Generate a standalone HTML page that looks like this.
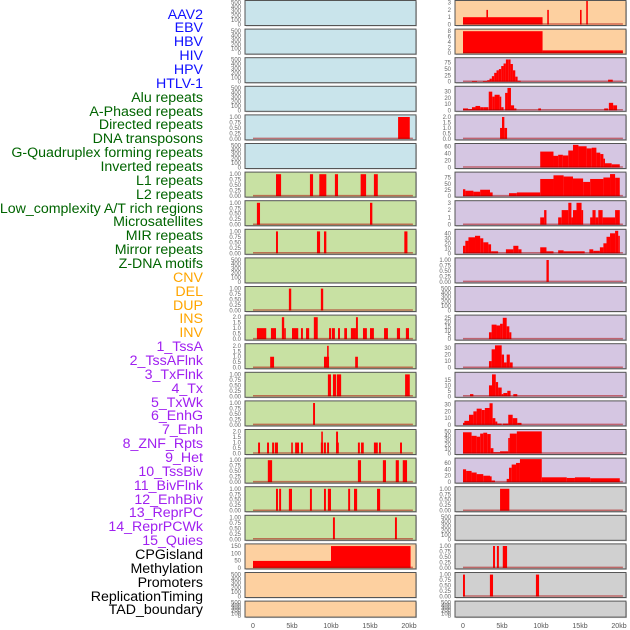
<!DOCTYPE html>
<html><head><meta charset="utf-8">
<style>
body{margin:0;background:#fff;}
#wrap{position:relative;width:630px;height:630px;overflow:hidden;font-family:"Liberation Sans",sans-serif;}
.lab{position:absolute;right:427px;font-size:14.2px;line-height:14px;white-space:nowrap;}
</style></head>
<body>
<div id="wrap">
<svg id="svg" width="630" height="630" style="position:absolute;left:0;top:0"></svg>
</div>
<script>
const labels=["AAV2","EBV","HBV","HIV","HPV","HTLV-1","Alu repeats","A-Phased repeats","Directed repeats","DNA transposons","G-Quadruplex forming repeats","Inverted repeats","L1 repeats","L2 repeats","Low_complexity A/T rich regions","Microsatellites","MIR repeats","Mirror repeats","Z-DNA motifs","CNV","DEL","DUP","INS","INV","1_TssA","2_TssAFlnk","3_TxFlnk","4_Tx","5_TxWk","6_EnhG","7_Enh","8_ZNF_Rpts","9_Het","10_TssBiv","11_BivFlnk","12_EnhBiv","13_ReprPC","14_ReprPCWk","15_Quies","CPGisland","Methylation","Promoters","ReplicationTiming","TAD_boundary"];
const labelColors=["#1010ff","#1010ff","#1010ff","#1010ff","#1010ff","#1010ff","#006400","#006400","#006400","#006400","#006400","#006400","#006400","#006400","#006400","#006400","#006400","#006400","#006400","#ffa500","#ffa500","#ffa500","#ffa500","#ffa500","#a020f0","#a020f0","#a020f0","#a020f0","#a020f0","#a020f0","#a020f0","#a020f0","#a020f0","#a020f0","#a020f0","#a020f0","#a020f0","#a020f0","#a020f0","#000","#000","#000","#000","#000"];
const xTicks=[0,5,10,15,20];
const xTickLabels=["0","5kb","10kb","15kb","20kb"];
const T500=["0","100","200","300","400","500"],T1=["0.00","0.25","0.50","0.75","1.00"],T2=["0.0","0.5","1.0","1.5","2.0"];
const leftTicks=[T500,T500,T500,T500,T1,T500,T1,T1,T1,T500,T1,T2,T2,T1,T1,T2,T1,T1,T1,["0","50","100","150"],T500,T500];
const leftMax=[520,520,520,520,1.05,520,1.05,1.05,1.05,520,1.05,2.1,2.1,1.05,1.05,2.1,1.05,1.05,1.05,158,520,520];
const leftFill=["#c9e4eb","#c9e4eb","#c9e4eb","#c9e4eb","#c9e4eb","#c9e4eb","#c8e1a3","#c8e1a3","#c8e1a3","#c8e1a3","#c8e1a3","#c8e1a3","#c8e1a3","#c8e1a3","#c8e1a3","#c8e1a3","#c8e1a3","#c8e1a3","#c8e1a3","#fdd0a0","#fdd0a0","#fdd0a0"];
const leftBars=[[],[],[],[],
[[18.6,20.1,1]],
[],
[[2.95,3.6,1],[7.3,7.7,1],[8.5,9.4,1],[10.5,10.9,1],[13.8,14.5,1],[15.5,16.0,1]],
[[0.5,0.9,1],[15.0,15.3,1]],
[[2.95,3.2,1],[8.2,8.6,1],[9.1,9.4,1],[19.4,19.8,1]],
[],
[[4.6,4.9,1],[8.7,9.0,1]],
[[0.5,1.7,1],[2.3,2.95,1],[3.7,4.0,2],[4.0,4.2,1],[5.0,5.8,1],[6.15,6.4,1],[6.8,7.2,1],[7.8,8.3,2],[9.75,10.0,1],[10.1,10.5,1],[10.9,11.15,1],[11.7,12.05,1],[12.55,13.2,1],[13.2,13.45,2],[14.1,14.6,1],[15.0,15.5,1],[16.8,17.3,1],[18.45,18.85,1],[19.6,20.0,1]],
[[2.2,2.7,1],[9.1,9.75,1],[9.5,9.6,2],[13.1,13.45,1]],
[[9.6,10.0,1],[10.25,10.65,1],[10.75,11.3,1],[19.5,20.1,1]],
[[7.7,7.95,1]],
[[0.65,0.9,1],[1.8,2.05,1],[2.45,2.7,1],[2.8,3.2,1],[4.9,5.1,1],[5.4,5.9,1],[6.15,6.4,1],[8.7,9.0,1],[8.75,8.9,2],[9.1,9.35,1],[9.5,9.75,1],[10.65,11.0,1],[10.65,10.9,2],[13.45,13.7,1],[13.85,14.2,1],[15.5,16.0,1],[16.15,16.4,1],[18.85,19.1,1]],
[[1.9,2.45,1],[13.45,13.85,1],[16.65,17.05,1],[18.3,18.7,1],[19.2,19.75,1]],
[[2.95,3.2,1],[3.35,3.6,1],[4.6,5.0,1],[7.3,7.55,1],[9.1,9.35,1],[9.6,10.0,1],[12.2,12.45,1],[12.95,13.35,1],[15.9,16.3,1]],
[[10.25,10.5,1],[18.2,18.45,1]],
[[0,10,48],[10,20.2,150]],
[],[]];
const rightTicks=[["0","1","2","3"],["0","2","4","6","8"],["0","25","50","75"],["0","10","20","30"],T2,["0","20","40","60"],["0","25","50","75"],["0","1","2","3"],["0","10","20","30","40"],T1,T500,["0","5","10","15","20","25"],["0","10","20","30"],["0","5","10","15"],["0","10","20","30"],["0","10","20","30","40","50"],["0","20","40","60"],T1,T500,T1,T1,T500];
const rightMax=[3.15,8.4,91,37,2.1,65,94,3.15,46,1.05,520,27,35,21,34,52,72,1.05,520,1.05,1.05,520];
const rightFill=["#fdd0a0","#fdd0a0","#d5c6e2","#d5c6e2","#d5c6e2","#d5c6e2","#d5c6e2","#d5c6e2","#d5c6e2","#d5c6e2","#d5c6e2","#d5c6e2","#d5c6e2","#d5c6e2","#d5c6e2","#d5c6e2","#d5c6e2","#d0d0d0","#d0d0d0","#d0d0d0","#d0d0d0","#d0d0d0"];
const rightBars=[
[[0,10.2,1],[3.0,3.2,2],[10.8,11.0,2],[15.0,15.2,2],[15.8,16.0,3.3]],
[[0,10.2,8],[10.2,20.5,1]],
[[1.15,1.8,3],[2.55,3.1,3],[3.1,3.4,6],[3.4,3.7,12],[3.7,4.0,22],[4.0,4.3,35],[4.3,4.6,45],[4.6,4.9,50],[4.9,5.2,62],[5.2,5.5,72],[5.5,5.8,88],[5.8,6.1,88],[6.1,6.4,70],[6.4,6.7,45],[6.7,7.0,20],[7.0,7.4,4],[18.6,19.2,8]],
[[0,0.65,3],[0.65,1.15,2],[1.15,1.6,5],[1.6,2.2,7],[2.2,2.6,5],[2.6,3.25,5],[3.3,3.75,30],[3.75,4.05,22],[4.05,4.7,25],[4.7,4.9,22],[4.9,5.2,5],[5.4,5.7,28],[5.7,6.15,36],[6.15,6.55,8],[6.55,6.85,3],[9.65,10,3],[18.1,18.6,3],[18.7,19.25,12],[19.25,19.75,8]],
[[4.75,5.0,1],[5.0,5.3,2],[5.3,5.65,1]],
[[9.9,11.6,45],[11.6,12.2,33],[12.2,12.8,36],[12.8,13.5,34],[13.5,14.1,48],[14.1,14.8,64],[14.8,15.85,60],[15.85,16.5,54],[16.5,17.1,56],[17.1,17.6,42],[17.6,18.0,38],[18.0,18.2,25],[18.2,19.06,12],[19.06,20.1,9]],
[[0,0.3,28],[0.3,1.33,22],[1.33,2.2,18],[2.2,3.46,26],[3.46,3.8,15],[5.9,6.9,12],[6.9,9.9,15],[9.9,11.6,70],[11.6,12.9,85],[12.9,14.1,80],[14.1,15.4,72],[15.4,16.3,58],[16.3,18.0,70],[18.0,18.85,76],[18.85,19.5,90],[19.5,20.1,75]],
[[9.9,10.4,1],[10.4,10.7,2],[12.2,12.65,1],[12.65,13.5,2],[13.5,13.9,3],[13.9,14.1,1],[14.1,14.55,2],[14.55,15.2,3],[15.2,15.3,2],[16.3,16.6,1],[16.6,17.0,2],[17.0,17.35,1],[17.35,17.9,2],[17.9,19.5,1],[19.5,20.1,2]],
[[0,0.3,15],[0.3,0.7,25],[0.7,1.54,32],[1.54,2.2,35],[2.2,2.6,30],[2.6,3.25,22],[3.25,3.6,18],[3.6,4.5,4],[5.5,6.45,8],[6.45,7.1,15],[7.1,7.5,8],[9.9,10.7,12],[10.7,11.6,4],[12.2,12.9,6],[12.9,15.6,4],[16.2,16.7,8],[16.7,17.55,5],[17.55,18.0,12],[18.0,18.4,20],[18.4,18.85,33],[18.85,19.5,40],[19.5,19.9,45],[19.9,20.1,35]],
[[10.7,11.0,1]],
[],
[[3.33,3.67,8],[3.67,4.3,17],[4.3,4.75,16],[4.75,5.1,18],[5.1,5.6,25],[5.6,5.94,15],[5.94,6.2,8]],
[[3.33,3.67,10],[3.67,4.1,28],[4.1,4.96,34],[4.96,5.26,20],[5.26,5.6,8],[5.6,6.0,20],[6.0,6.37,8]],
[[0.9,1.33,2],[3.33,3.72,10],[3.72,4.2,20],[4.2,4.5,13],[4.5,4.96,8],[4.96,5.17,2],[5.17,5.68,3],[5.68,6.1,5],[6.45,6.96,2]],
[[0,0.17,3],[0.17,0.77,6],[0.77,1.33,15],[1.33,1.75,20],[1.75,2.4,24],[2.4,2.8,22],[2.8,3.4,25],[3.4,3.8,32],[3.8,4.15,10],[4.15,4.4,5],[4.4,4.96,2],[5.1,5.8,2],[5.8,6.37,15],[6.37,6.96,10],[6.96,7.5,3]],
[[0,1.1,48],[1.1,1.75,40],[1.75,2.2,38],[2.2,2.6,45],[2.6,3.1,47],[3.1,3.55,44],[3.55,3.9,12],[3.9,4.75,3],[4.75,5.8,5],[5.8,6.0,35],[6.0,6.9,45],[6.9,10.1,50]],
[[0,0.4,40],[0.4,1.1,35],[1.1,1.75,30],[1.75,2.6,25],[2.6,3.46,20],[3.46,3.67,18],[3.67,4.1,5],[5.6,5.9,10],[5.9,6.24,45],[6.24,6.8,55],[6.8,7.3,60],[7.3,10.1,72],[10.1,13.3,15],[13.3,14.35,13],[14.35,16.3,15],[16.3,20.1,12]],
[[4.75,5.94,1]],
[],
[[3.85,4.1,1],[4.35,4.6,1],[5.1,5.65,1]],
[[0,0.25,1],[3.45,3.85,1],[9.35,9.75,1]],
[]];

const NS="http://www.w3.org/2000/svg";
const svg=document.getElementById('svg');
const wrap=document.getElementById('wrap');
function mk(tag,attrs,parent){const e=document.createElementNS(NS,tag);for(const k in attrs)e.setAttribute(k,attrs[k]);(parent||svg).appendChild(e);return e;}
const ROWSTEP=28.6;
function rowTop(i){return 0.5+i*ROWSTEP;}
function rowH(i){return i===21?16:25;}

labels.forEach((t,i)=>{
  const d=document.createElement('div');
  d.className='lab';
  d.style.top=(7.5+i*13.86)+'px';
  d.style.color=labelColors[i];
  d.textContent=t;
  
  
  wrap.appendChild(d);
});

function drawColumn(px0,zeroX,ticks,maxes,fills,bars,side){
  const kbScale=7.8;
  const xs=kb=>zeroX+kb*kbScale;
  for(let i=0;i<22;i++){
    const top=rowTop(i),h=rowH(i);
    const g=mk('g',{});
    
    
    mk('rect',{x:px0+1,y:top+1,width:171,height:h,fill:'#999',opacity:0.5},g);
    mk('rect',{x:px0,y:top,width:171,height:h,fill:fills[i],stroke:'#555','stroke-width':1},g);
    const y0=top+h-1,y1=top+1;
    const ys=v=>y0-(v/maxes[i])*(y0-y1);
    const tk=mk('g',{},g);
    
    
    ticks[i].forEach(s=>{
      const t=mk('text',{x:px0-4,y:ys(parseFloat(s))+2,'font-size':6,'text-anchor':'end',fill:'#666','font-family':'Liberation Sans, sans-serif'},tk);
      t.textContent=s;
    });
    const b=bars[i];
    if(b.length){
      b.forEach(r=>{
        const x=xs(r[0]),w=Math.max(1.6,xs(r[1])-x);
        const yy=Math.max(top+0.5,ys(r[2]));
        const rr=mk('rect',{x:x,y:yy,width:w,height:y0-yy,fill:'#ff0000'},g);
        
        
      });
      const bl=mk('line',{x1:xs(0),x2:xs(20.5),y1:y0-0.5,y2:y0-0.5,stroke:'rgba(170,0,0,0.5)','stroke-width':1.5},g);
      
      
    }
  }
  const ax=mk('g',{});
  
  
  xTicks.forEach((v,k)=>{
    const t=mk('text',{x:xs(v),y:628,'font-size':7,'text-anchor':'middle',fill:'#555','font-family':'Liberation Sans, sans-serif'},ax);
    t.textContent=xTickLabels[k];
  });
}
drawColumn(245,253,leftTicks,leftMax,leftFill,leftBars,'left');
drawColumn(455,463,rightTicks,rightMax,rightFill,rightBars,'right');
</script>
</body></html>
